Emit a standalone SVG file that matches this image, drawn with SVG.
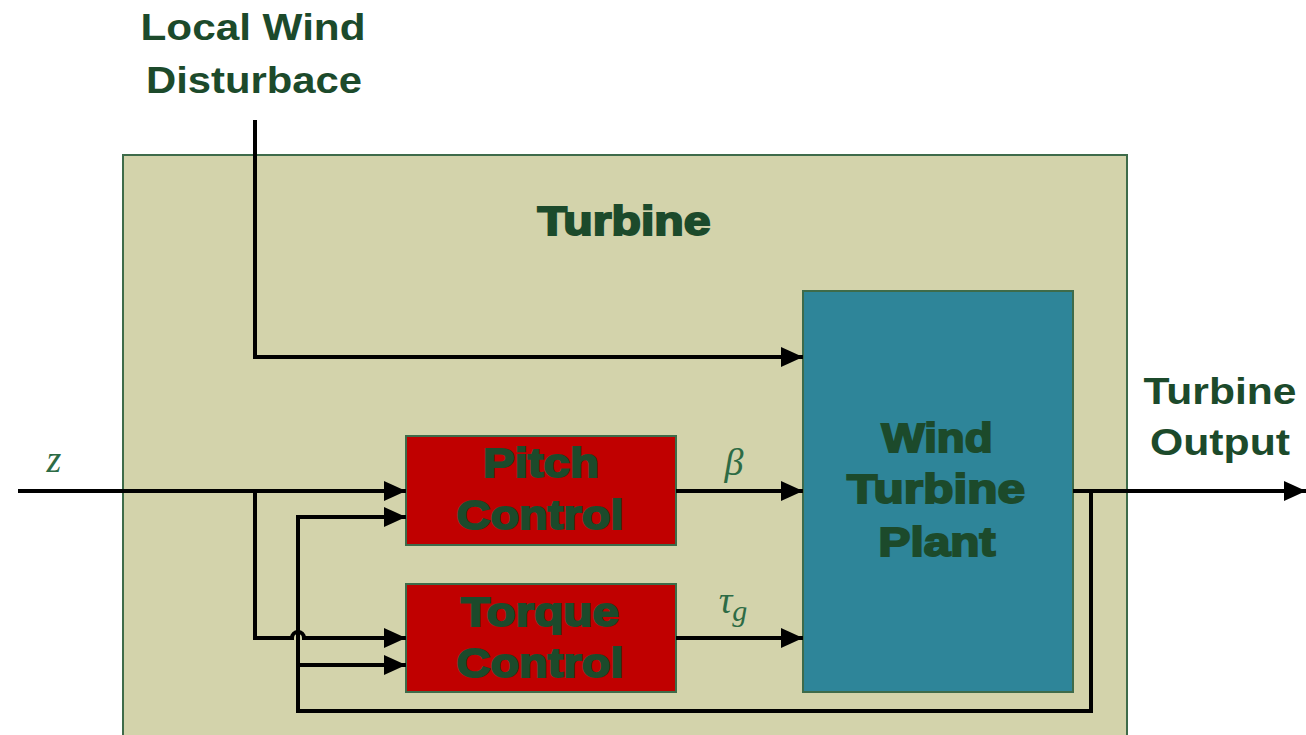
<svg xmlns="http://www.w3.org/2000/svg" width="1306" height="735" viewBox="0 0 1306 735">
<style>
.lbl{font-family:"Liberation Sans",Arial,sans-serif;font-weight:bold;fill:#1C4A2B;text-anchor:middle;font-size:37px}
.heavy{font-size:41px;stroke:#1C4A2B;stroke-width:2px}
.math{font-family:"Liberation Serif","Times New Roman",serif;font-style:italic;fill:#2D6B45;font-size:38px;text-anchor:middle}
.wire{fill:none;stroke:#000;stroke-width:4;stroke-linejoin:miter}
.box{stroke:#3E6B4A;stroke-width:2}
</style>
<defs>
<marker id="arr" viewBox="0 0 22 20" refX="22" refY="10" markerWidth="22" markerHeight="20" markerUnits="userSpaceOnUse" orient="auto">
<path d="M0,0 L22,10 L0,20 Z" fill="#000"/>
</marker>
</defs>
<rect width="1306" height="735" fill="#fff"/>
<g id="turbine">
<rect class="box" x="123" y="155" width="1004" height="600" fill="#D3D3AB"/>
<text class="lbl heavy" x="624" y="235" textLength="173" lengthAdjust="spacingAndGlyphs">Turbine</text>
</g>
<g id="wind-label">
<text class="lbl" x="253" y="40" textLength="225" lengthAdjust="spacingAndGlyphs">Local Wind</text>
<text class="lbl" x="254" y="93" textLength="216" lengthAdjust="spacingAndGlyphs">Disturbace</text>
</g>
<g id="output-label">
<text class="lbl" x="1220" y="404" textLength="153" lengthAdjust="spacingAndGlyphs">Turbine</text>
<text class="lbl" x="1220" y="455" textLength="140" lengthAdjust="spacingAndGlyphs">Output</text>
</g>
<g id="plant">
<rect class="box" x="803" y="291" width="270" height="401" fill="#2E8599"/>
<text class="lbl heavy" x="937" y="452" textLength="111" lengthAdjust="spacingAndGlyphs">Wind</text>
<text class="lbl heavy" x="936" y="503" textLength="178" lengthAdjust="spacingAndGlyphs">Turbine</text>
<text class="lbl heavy" x="937" y="556" textLength="117" lengthAdjust="spacingAndGlyphs">Plant</text>
</g>
<g id="pitch">
<rect class="box" x="406" y="436" width="270" height="109" fill="#C00000"/>
<text class="lbl heavy" x="541" y="477" textLength="116" lengthAdjust="spacingAndGlyphs">Pitch</text>
<text class="lbl heavy" x="540" y="529" textLength="167" lengthAdjust="spacingAndGlyphs">Control</text>
</g>
<g id="torque">
<rect class="box" x="406" y="584" width="270" height="108" fill="#C00000"/>
<text class="lbl heavy" x="540" y="626" textLength="158" lengthAdjust="spacingAndGlyphs">Torque</text>
<text class="lbl heavy" x="540" y="677" textLength="167" lengthAdjust="spacingAndGlyphs">Control</text>
</g>
<g id="connectors">
<path class="wire" d="M255,120 V357 H803" marker-end="url(#arr)"/>
<path class="wire" d="M18,491 H406" marker-end="url(#arr)"/>
<path class="wire" d="M255,491 V638 H292 A6,6 0 0 1 304,638 H406" marker-end="url(#arr)"/>
<path class="wire" d="M1073,491 H1306" marker-end="url(#arr)"/>
<path class="wire" d="M1091,491 V711 H298 V517 H406" marker-end="url(#arr)"/>
<path class="wire" d="M298,665 H406" marker-end="url(#arr)"/>
<path class="wire" d="M676,491 H803" marker-end="url(#arr)"/>
<path class="wire" d="M676,638 H803" marker-end="url(#arr)"/>
</g>
<g id="math-labels">
<text class="math" x="54" y="472">z</text>
<text class="math" x="734" y="475">β</text>
<text class="math" x="733" y="613">τ<tspan font-size="30" dy="8">g</tspan></text>
</g>
</svg>
